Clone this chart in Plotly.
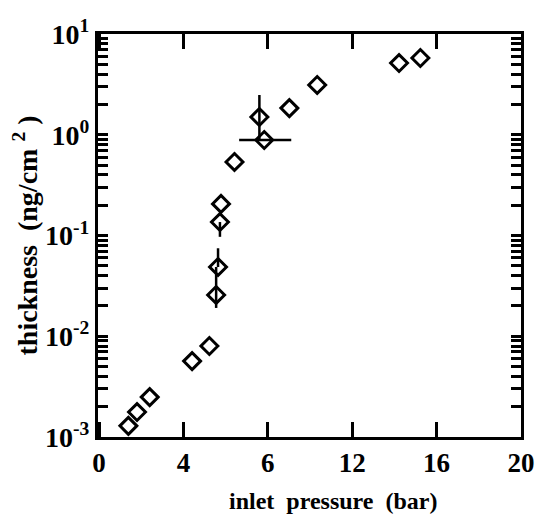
import plotly.graph_objects as go

# data
pressure = [1.39, 1.80, 2.40, 4.41, 5.23, 5.55, 5.64, 5.73, 5.78, 6.42, 7.60, 7.83, 9.02, 10.34, 14.22, 15.23]
thickness = [1.29e-3, 1.77e-3, 2.49e-3, 5.67e-3, 8.0e-3, 0.0257, 0.0487, 0.136, 0.206, 0.537, 1.50, 0.887, 1.84, 3.12, 5.15, 5.78]
err_up = [0, 0, 0, 0, 0, 0.023, 0.026, 0, 0, 0, 0.98, 0, 0, 0, 0, 0]
err_down = [0, 0, 0, 0, 0, 0.0066, 0, 0.039, 0, 0, 0.61, 0, 0, 0, 0, 0]
err_x_plus = [0]*11 + [1.28] + [0]*4
err_x_minus = [0]*11 + [1.19] + [0]*4

x_tickvals = [0, 4, 8, 12, 16, 20]
x_ticktext = ["0", "4", "6", "12", "16", "20"]
y_major_vals = [1e-3, 1e-2, 1e-1, 1, 10]
y_major_text = ["10<sup>-3</sup>", "10<sup>-2</sup>", "10<sup>-1</sup>", "10<sup>0</sup>", "10<sup>1</sup>"]
minor_mult = [2, 3, 4, 5, 6, 7, 8, 9]

# all y ticks (major labelled, minor blank)
y_tickvals = list(y_major_vals)
y_ticktext = list(y_major_text)
for d in y_major_vals[:-1]:
    for m in minor_mult:
        y_tickvals.append(d * m)
        y_ticktext.append(" ")

fnt = "Liberation Serif"

fig = go.Figure()
fig.add_trace(go.Scatter(
    x=pressure, y=thickness, mode="markers",
    marker=dict(symbol="diamond-open", size=13, color="black", line=dict(width=3, color="black")),
    error_y=dict(type="data", symmetric=False, array=err_up, arrayminus=err_down,
                 color="black", thickness=2.5, width=0),
    error_x=dict(type="data", symmetric=False, array=err_x_plus, arrayminus=err_x_minus,
                 color="black", thickness=2.5, width=0),
    showlegend=False,
))

fig.update_layout(
    width=547, height=518,
    margin=dict(l=98, r=14, t=34, b=81),
    paper_bgcolor="white", plot_bgcolor="white",
    font=dict(family=fnt, color="black"),
    annotations=[dict(
        text="<b>inlet  pressure  (bar)</b>", xref="paper", yref="paper",
        x=0.555, y=0, yshift=-64, xanchor="center", yanchor="middle", showarrow=False,
        font=dict(family=fnt, size=24, color="black"),
    )],
)
fig.update_xaxes(
    range=[-0.05, 20], tickvals=x_tickvals, ticktext=x_ticktext,
    showline=True, linewidth=3, linecolor="black", mirror="ticks",
    ticks="inside", ticklen=15, tickwidth=2.5, tickcolor="black",
    showgrid=False, zeroline=False, ticklabeloverflow="allow",
    tickfont=dict(family=fnt, size=27, color="black", weight="bold"),
)
fig.update_yaxes(
    type="log", range=[-3, 1], tickvals=y_tickvals, ticktext=y_ticktext,
    showline=True, linewidth=3, linecolor="black", mirror="ticks",
    ticks="inside", ticklen=10, tickwidth=2.5, tickcolor="black",
    showgrid=False, zeroline=False, ticklabeloverflow="allow",
    tickfont=dict(family=fnt, size=28, color="black", weight="bold"),
    title=dict(text="<b>thickness  (ng/cm <sup>2</sup> )</b>", font=dict(family=fnt, size=28, color="black"), standoff=0),
)

fig.write_html("out.html")
